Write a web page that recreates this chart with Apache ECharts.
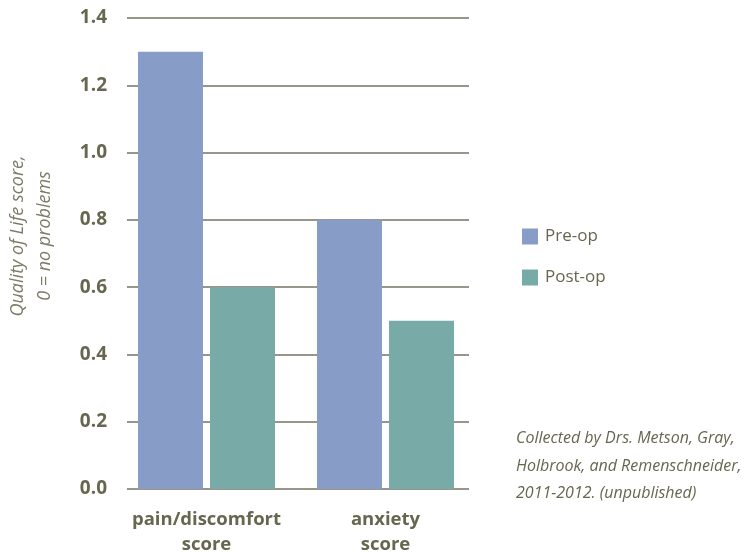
<!DOCTYPE html>
<html><head><meta charset="utf-8">
<script src="https://cdn.jsdelivr.net/npm/echarts@6/dist/echarts.min.js"></script>
<style>html,body{margin:0;padding:0;background:#fff}#c{width:744px;height:552px}</style>
</head><body><div id="c"></div>
<script>
const categories = ['pain/discomfort\nscore', 'anxiety\nscore'];
const seriesNames = ['Pre-op', 'Post-op'];
const preOp = [1.3, 0.8];
const postOp = [0.6, 0.5];
const yTicks = [0, 0.2, 0.4, 0.6, 0.8, 1.0, 1.2, 1.4];
const yAxisTitle = 'Quality of Life score,\n0 = no problems';
const note = 'Collected by Drs. Metson, Gray,\nHolbrook, and Remenschneider,\n2011-2012. (unpublished)';

const textColor = '#67664f';
const font = "'Open Sans', sans-serif";
const chart = echarts.init(document.getElementById('c'), null, {renderer: 'canvas'});
chart.setOption({
  backgroundColor: '#fff',
  animation: false,
  grid: [
    {left: 117, right: 269, top: 18, bottom: 63, containLabel: false, outerBoundsMode: 'none'},
    {left: 127, right: 275, top: 18, bottom: 63, containLabel: false, outerBoundsMode: 'none'}
  ],
  legend: {
    data: seriesNames,
    orient: 'vertical', left: 517, top: 223,
    icon: 'rect', itemWidth: 16, itemHeight: 16, itemGap: 24,
    textStyle: {color: textColor, fontSize: 17, fontFamily: font, padding: [0, 0, 0, 2]}
  },
  xAxis: [
    {type: 'category', gridIndex: 0, data: categories,
     axisLine: {show: false}, axisTick: {show: false},
     axisLabel: {interval: 0, color: textColor, fontSize: 18.5, fontWeight: 'bold', fontFamily: font, lineHeight: 25, margin: 18}},
    {type: 'category', gridIndex: 1, data: categories, show: false}
  ],
  yAxis: [
    {type: 'value', gridIndex: 0, min: 0, max: 1.4, interval: 0.2, show: false, splitLine: {show: false}},
    {type: 'value', gridIndex: 1, min: 0, max: 1.4, interval: 0.2,
     axisLine: {show: false}, axisTick: {show: false},
     splitLine: {show: true, lineStyle: {color: '#747360', width: 1.5}},
     axisLabel: {color: textColor, fontSize: 19, fontWeight: 'bold', fontFamily: font, margin: 20,
       formatter: v => { const t = yTicks.find(x => Math.abs(x - v) < 1e-9); return (t !== undefined ? t : v).toFixed(1); }}}
  ],
  series: [
    {name: seriesNames[0], type: 'bar', xAxisIndex: 0, yAxisIndex: 0, data: preOp,
     barWidth: 65, barGap: '10.8%', itemStyle: {color: '#879dc8'}, z: 1},
    {name: seriesNames[1], type: 'bar', xAxisIndex: 0, yAxisIndex: 0, data: postOp,
     barWidth: 65, barGap: '10.8%', itemStyle: {color: '#78aba8'}, z: 1}
  ],
  graphic: [
    {type: 'text', x: 31, y: 236, rotation: Math.PI / 2,
     style: {text: yAxisTitle, fill: '#7d7b66', font: "italic 18px 'Open Sans', sans-serif",
       align: 'center', verticalAlign: 'middle', lineHeight: 27}},
    {type: 'text', left: 516, top: 425,
     style: {text: note, fill: textColor, font: "italic 16px 'Open Sans', sans-serif", lineHeight: 27.5}}
  ]
});
</script></body></html>
